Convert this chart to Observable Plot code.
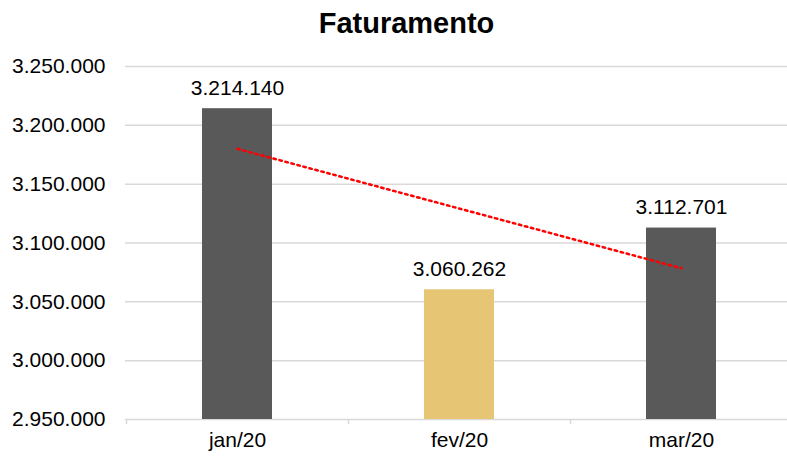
<!DOCTYPE html>
<html><head><meta charset="utf-8">
<script src="https://cdn.jsdelivr.net/npm/d3@7"></script>
<script src="https://cdn.jsdelivr.net/npm/@observablehq/plot@0.6"></script>
<style>
body{margin:0;background:#fff;font-family:"Liberation Sans",Arial,sans-serif;color:#000}
#title{height:45px;line-height:46px;font-size:29px;font-weight:bold;text-align:center;padding-left:26px;width:761px;overflow:visible}
</style></head><body>
<div id="title">Faturamento</div>
<div id="chart"></div>
<script>
const categories = ["jan/20", "fev/20", "mar/20"];
const values = [3214140, 3060262, 3112701];
const highlighted = ["fev/20"];
const trendCategories = ["jan/20", "mar/20"];
const trendValues = [3180000, 3078500];
const yTicks = [2950000, 3000000, 3050000, 3100000, 3150000, 3200000, 3250000];

const DARK = "#595959", GOLD = "#e6c675", GRID = "#d9d9d9";
const fmt = d3.formatLocale({decimal: ",", thousands: ".", grouping: [3], currency: ["R$", ""]}).format(",d");

const data = categories.map((c, i) => ({category: c, value: values[i]}));
const trend = trendCategories.map((c, i) => ({category: c, value: trendValues[i]}));
const half = 111;

const chart = Plot.plot({
  width: 787,
  height: 411,
  marginTop: 21,
  marginBottom: 37,
  marginLeft: 125,
  marginRight: 0,
  style: {fontFamily: "'Liberation Sans', Arial, sans-serif", fontSize: "21px", color: "#000", background: "#fff", overflow: "hidden"},
  x: {domain: categories, range: [125, 792], paddingInner: 0.685, paddingOuter: 0.3425, label: null},
  y: {domain: [yTicks[0], yTicks[yTicks.length - 1]], label: null},
  marks: [
    Plot.gridY(yTicks, {stroke: GRID, strokeOpacity: 1, strokeWidth: 1.5}),
    Plot.ruleX(categories, {x: d => d, dx: -half, insetTop: 353, insetBottom: -5, stroke: GRID, strokeWidth: 1.5}),
    Plot.barY(data, {x: "category", y: "value", fill: d => highlighted.includes(d.category) ? GOLD : DARK, clip: true}),
    Plot.line(trend, {x: "category", y: "value", stroke: "#ff0000", strokeWidth: 2.5, strokeDasharray: "2.5,3.7"}),
    Plot.text(data, {x: "category", y: "value", text: d => fmt(d.value), lineAnchor: "bottom", dy: -14, fontSize: 21, fill: "#000"}),
    Plot.axisY(yTicks, {tickSize: 0, tickPadding: 20, tickFormat: fmt, fontSize: 21, label: null}),
    Plot.axisX({tickSize: 0, tickPadding: 13, fontSize: 21, label: null})
  ]
});
document.getElementById("chart").appendChild(chart);
</script>
</body></html>
